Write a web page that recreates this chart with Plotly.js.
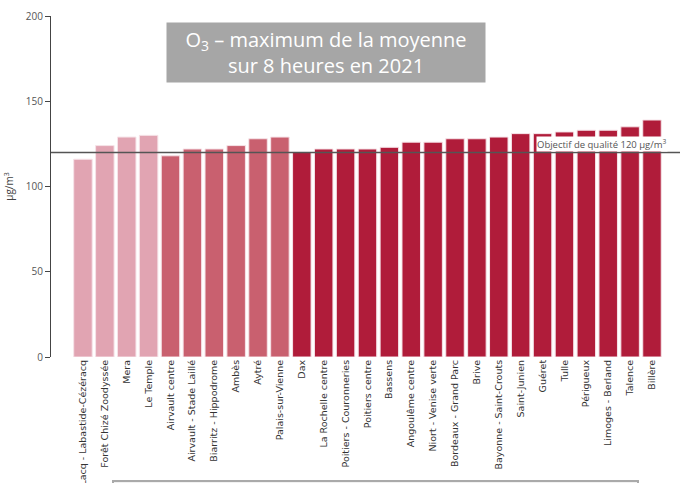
<!DOCTYPE html>
<html>
<head>
<meta charset="utf-8">
<script src="https://cdn.plot.ly/plotly-3.0.1.min.js"></script>
<style>html,body{margin:0;padding:0;background:#fff;}#chart{width:680px;height:483px;}</style>
</head>
<body>
<div id="chart"></div>
<script>
const stations = ["ZI Lacq - Labastide-Cézéracq","Forêt Chizé Zoodyssée","Mera","Le Temple","Airvault centre","Airvault - Stade Laillé","Biarritz - Hippodrome","Ambès","Aytré","Palais-sur-Vienne","Dax","La Rochelle centre","Poitiers - Couronneries","Poitiers centre","Bassens","Angoulême centre","Niort - Venise verte","Bordeaux - Grand Parc","Brive","Bayonne - Saint-Crouts","Saint-Junien","Guéret","Tulle","Périgueux","Limoges - Berland","Talence","Billère"];
const o3Max8h = [116,124,129,130,118,122,122,124,128,129,120,122,122,122,123,126,126,128,128,129,131,131,132,133,133,135,139];
const stationGroup = [0,0,0,0,1,1,1,1,1,1,2,2,2,2,2,2,2,2,2,2,2,2,2,2,2,2,2];
const groupColors = ["#E1A4B2","#C9606F","#B01C3A"];
const objective = 120;
const yTicks = [0,50,100,150,200];

const trace = {
  type: "bar",
  x: stations,
  y: o3Max8h,
  marker: {color: stationGroup.map(g => groupColors[g]), line: {color: "#F6E3E8", width: 1}},
  hoverinfo: "x+y"
};

const layout = {
  width: 680, height: 483,
  margin: {l: 51, r: 0, t: 16, b: 126},
  paper_bgcolor: "#fff", plot_bgcolor: "#fff",
  font: {family: "Open Sans, sans-serif", color: "#444"},
  showlegend: false,
  bargap: 0.155,
  xaxis: {
    range: [-1.46, 27.28],
    tickangle: -90,
    tickfont: {size: 9.5, color: "#333", family: "DejaVu Sans, sans-serif"},
    ticks: "", showline: false, showgrid: false, zeroline: false,
    automargin: false
  },
  yaxis: {
    range: [0, 200],
    tickvals: yTicks,
    ticks: "outside", ticklen: 5, tickcolor: "#444",
    showline: true, linecolor: "#444", linewidth: 1,
    showgrid: false, zeroline: false,
    tickfont: {size: 10, color: "#555"},
    title: {text: "µg/m<sup>3</sup>", font: {size: 10, color: "#444"}, standoff: 10},
    automargin: false
  },
  shapes: [
    {type: "line", xref: "paper", x0: 0, x1: 1, yref: "y", y0: objective, y1: objective,
     line: {color: "#555", width: 1.5}},
    {type: "rect", xref: "paper", yref: "paper", x0: (113-51)/629, x1: (638-51)/629,
     y0: -(481-357)/341, y1: -(520-357)/341, line: {color: "#AAAAAA", width: 2}, fillcolor: "#F2F2F2"}
  ],
  annotations: [
    {xref: "paper", yref: "paper", x: (326-51)/629, y: (357-52.5)/341,
     xanchor: "center", yanchor: "middle", showarrow: false,
     text: "O<sub>3</sub> – maximum de la moyenne<br>sur 8 heures en 2021",
     font: {size: 20, color: "#fff", family: "Open Sans, sans-serif"},
     bgcolor: "#A6A6A6", width: 316, height: 57, align: "center"},
    {xref: "paper", yref: "y", x: (668-51)/629, y: 125,
     xanchor: "right", yanchor: "middle", showarrow: false,
     text: "Objectif de qualité 120 µg/m<sup>3</sup>",
     font: {size: 9.5, color: "#555"}, bgcolor: "#fff", borderpad: 0}
  ]
};

Plotly.newPlot("chart", [trace], layout, {displayModeBar: false, staticPlot: true});
</script>
</body>
</html>
